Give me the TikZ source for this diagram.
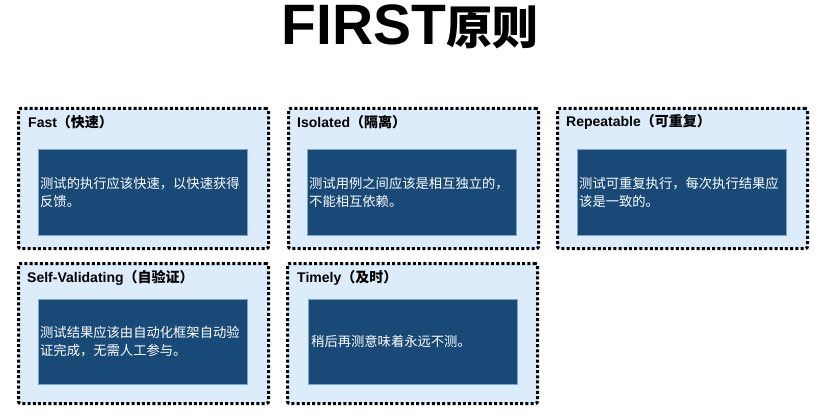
\documentclass[tikz,border=0pt]{standalone}
\usepackage{fontspec}
\setmainfont{Liberation Sans}
\newfontfamily\cjk{Noto Sans CJK SC}
\usepackage{xcolor}
\usetikzlibrary{positioning}

\definecolor{panelbg}{RGB}{221,236,250}
\definecolor{cardbg}{RGB}{24,73,119}
\definecolor{cardline}{RGB}{125,165,205}

\tikzset{
  panel/.style={draw=black, line width=3pt, dash pattern=on 3pt off 2.2pt,
    fill=panelbg, rounded corners=2pt, anchor=north west, inner sep=0pt},
  card/.style={draw=cardline, line width=0.6pt, fill=cardbg, anchor=north west,
    inner sep=0pt, minimum width=209pt, minimum height=86pt},
  heading/.style={anchor=west, inner sep=0pt, font=\bfseries\fontsize{14}{16}\selectfont},
  cardtext/.style={anchor=west, inner sep=0pt, text=white, align=left,
    font=\cjk\fontsize{13.3}{18}\selectfont}
}

\begin{document}
\begin{tikzpicture}[x=1pt, y=-1pt]
  \useasboundingbox (0,0) rectangle (831,420);

  % Title
  \node[inner sep=0pt, anchor=base] (title) at (410,45)
    {{\bfseries\fontsize{57}{60}\selectfont FIRST}{\cjk\bfseries\fontsize{46}{50}\selectfont 原则}};

  % Panels
  \node[panel, minimum width=250pt, minimum height=140pt] (fast) at (17,107) {};
  \node[panel, minimum width=250pt, minimum height=140pt] (iso) at (287,107) {};
  \node[panel, minimum width=250pt, minimum height=140pt] (rep) at (556,107) {};
  \node[panel, minimum width=250pt, minimum height=140pt] (self) at (17,262) {};
  \node[panel, minimum width=250pt, minimum height=140pt] (time) at (286,262) {};

  % Headings
  \node[heading] (fastname) at (28,122) {Fast{\cjk\bfseries（快速）}};
  \node[heading] (isoname) at (297,122) {Isolated{\cjk\bfseries（隔离）}};
  \node[heading] (repname) at (566,122) {Repeatable{\cjk\bfseries（可重复）}};
  \node[heading] (selfname) at (27,278) {Self-Validating{\cjk\bfseries（自验证）}};
  \node[heading] (timename) at (297,278) {Timely{\cjk\bfseries（及时）}};

  % Cards
  \node[card] (fastcard) at (38,149) {};
  \node[card] (isocard) at (307,149) {};
  \node[card] (repcard) at (577,149) {};
  \node[card, minimum height=85pt] (selfcard) at (38,299) {};
  \node[card, minimum height=85pt] (timecard) at (308,299) {};

  \node[cardtext, right=2pt of fastcard.west] (fasttext) {测试的执行应该快速，以快速获得\\反馈。};
  \node[cardtext, right=2pt of isocard.west] (isotext) {测试用例之间应该是相互独立的，\\不能相互依赖。};
  \node[cardtext, right=2pt of repcard.west] (reptext) {测试可重复执行，每次执行结果应\\该是一致的。};
  \node[cardtext, right=2pt of selfcard.west] (selftext) {测试结果应该由自动化框架自动验\\证完成，无需人工参与。};
  \node[cardtext, right=3pt of timecard.west] (timetext) {稍后再测意味着永远不测。};
\end{tikzpicture}
\end{document}
